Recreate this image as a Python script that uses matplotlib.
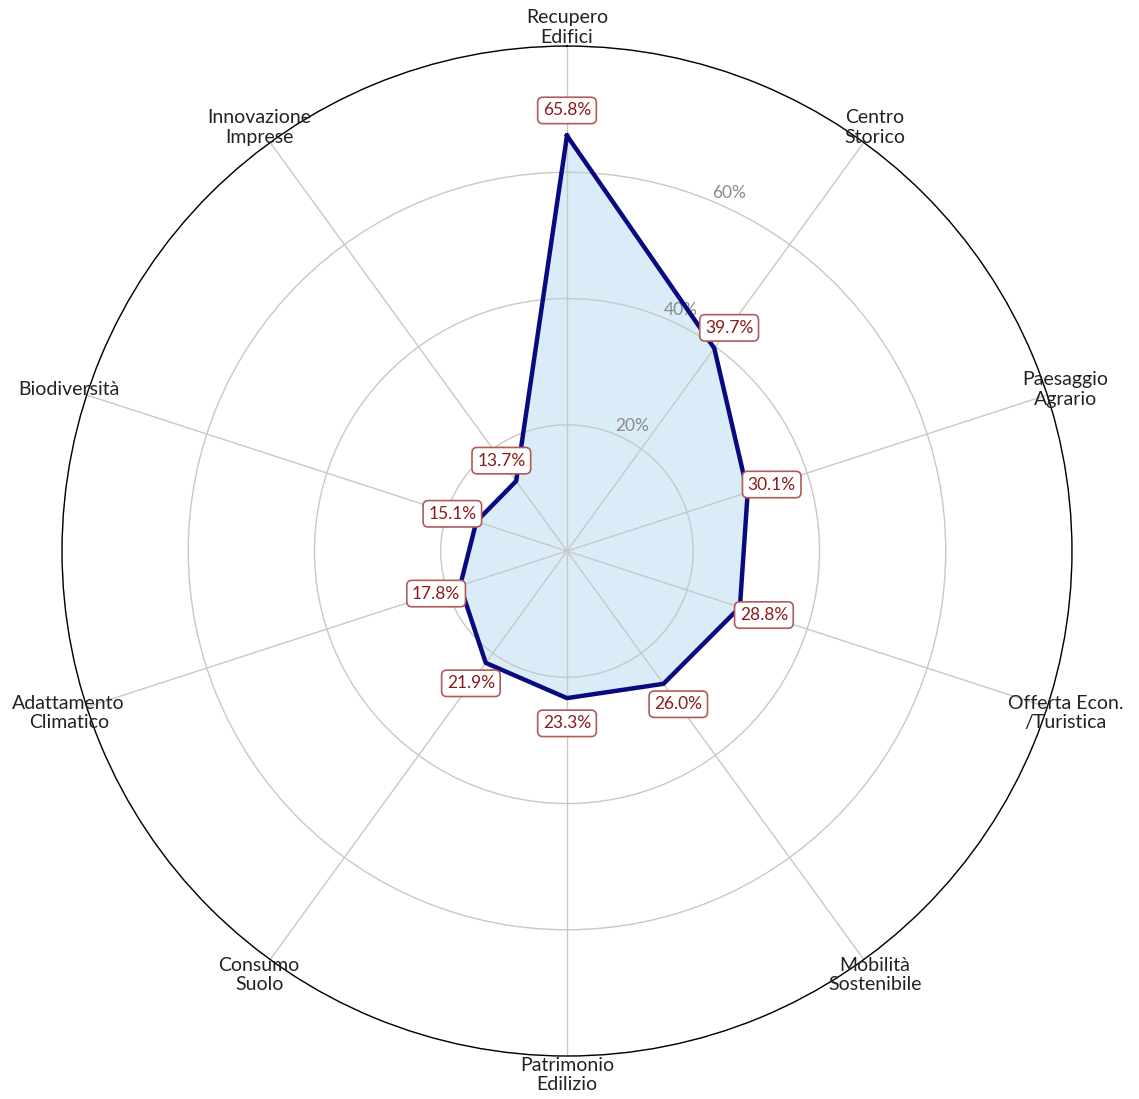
import numpy as np
import matplotlib.pyplot as plt

plt.rcParams['font.family'] = ['Lato', 'DejaVu Sans']

categories = ["Recupero\nEdifici", "Centro\nStorico", "Paesaggio\nAgrario",
              "Offerta Econ.\n/Turistica", "Mobilità\nSostenibile", "Patrimonio\nEdilizio",
              "Consumo\nSuolo", "Adattamento\nClimatico", "Biodiversità",
              "Innovazione\nImprese"]
values = [65.8, 39.7, 30.1, 28.8, 26.0, 23.3, 21.9, 17.8, 15.1, 13.7]
rticks = [20, 40, 60, 80]
rtick_labels = ["20%", "40%", "60%", ""]

n = len(categories)
angles = np.linspace(0, 2 * np.pi, n, endpoint=False)
closed_angles = np.concatenate([angles, angles[:1]])
closed_values = np.concatenate([values, values[:1]])

fig = plt.figure(figsize=(11.39, 10.99), dpi=100)
ax = fig.add_axes([0.0544, 0.0391, 0.8868, 0.919], projection="polar")
ax.set_theta_offset(np.pi / 2)
ax.set_theta_direction(-1)
ax.set_ylim(0, 80)

ax.fill(closed_angles, closed_values, color="#d6eaf8", alpha=0.9, zorder=1)
ax.plot(closed_angles, closed_values, color="#0a0a80", linewidth=3.2, zorder=3)

ax.set_xticks(angles)
ax.set_xticklabels([])
ax.set_yticks(rticks)
ax.set_yticklabels(rtick_labels, color="#8a8a8a", fontsize=12.5)
ax.set_rlabel_position(22.5)
ax.grid(color="#c8c8c8", linewidth=1)
ax.spines["polar"].set_color("black")
ax.spines["polar"].set_linewidth(1)

for a, lab in zip(angles, categories):
    ax.text(a, 83, lab, ha="center", va="center", fontsize=14, color="#222222",
            clip_on=False)

for a, v in zip(angles, values):
    ax.text(a, v + 4, f"{v:.1f}%", ha="center", va="center", fontsize=12.5,
            color="#8b1a1a", zorder=5,
            bbox=dict(boxstyle="round,pad=0.3", facecolor="white",
                      edgecolor="#b05a5a", linewidth=1.2))

fig.savefig("out.png", dpi=100)
